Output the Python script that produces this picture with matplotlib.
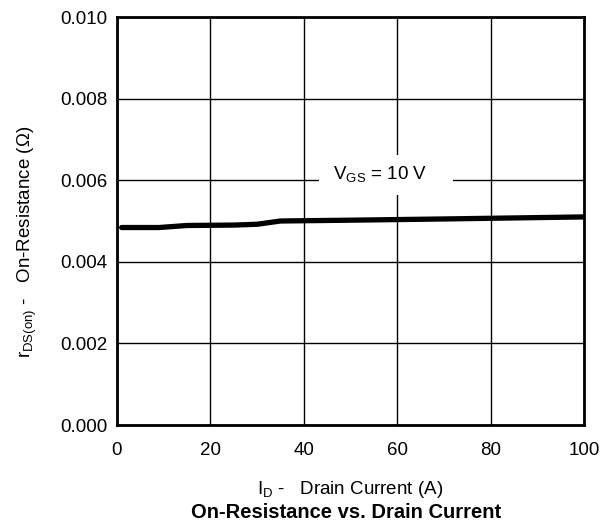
#!/usr/bin/env python3
import matplotlib
matplotlib.use('Agg')
import matplotlib.pyplot as plt

corrente_id = [1, 9, 15, 25, 30, 35, 50, 70, 100]
rds_on = [0.00484, 0.00484, 0.00489, 0.00490, 0.00492, 0.00500, 0.00502, 0.00505, 0.00510]

x_ticks = [0, 20, 40, 60, 80, 100]
y_ticks = [0.000, 0.002, 0.004, 0.006, 0.008, 0.010]

plt.rcParams['font.family'] = ['Liberation Sans', 'DejaVu Sans']
plt.rcParams['mathtext.fontset'] = 'custom'
plt.rcParams['mathtext.rm'] = 'Liberation Sans'

fig = plt.figure(figsize=(6.09, 5.29), dpi=100)
ax = fig.add_axes([117 / 609, 104 / 529, 467 / 609, 408 / 529])

ax.plot(corrente_id, rds_on, color='black', lw=3.8, solid_capstyle='round', zorder=3)

ax.set_xlim(0, 100)
ax.set_ylim(0, 0.010)
ax.set_xticks(x_ticks)
ax.set_yticks(y_ticks)
ax.set_yticklabels([f"{v:.3f}" for v in y_ticks])
ax.grid(True, color='black', lw=1.0)
ax.set_axisbelow(True)
for s in ax.spines.values():
    s.set_linewidth(2.0)
ax.tick_params(length=0, labelsize=13.5)
ax.tick_params(axis='x', pad=12)
ax.tick_params(axis='y', pad=7)

ax.text(57.6, 0.00613, r" V$_{\mathrm{GS}}$ = 10 V    ", fontsize=13.5, ha='center', va='center',
        bbox=dict(facecolor='white', edgecolor='none', pad=7), zorder=4)

ax.set_ylabel(r"r$_{\mathrm{DS(on)}}$ -   On-Resistance ($\Omega$)", fontsize=13.5)
ax.yaxis.set_label_coords(-0.168, 0.45)
ax.set_xlabel(r"I$_{\mathrm{D}}$ -   Drain Current (A)", fontsize=13.5, labelpad=15)
fig.text(346 / 609, 1 - 513 / 529, "On-Resistance vs. Drain Current", ha='center', va='center',
         fontsize=14.5, fontweight='bold')

fig.savefig('out.png', dpi=100)
